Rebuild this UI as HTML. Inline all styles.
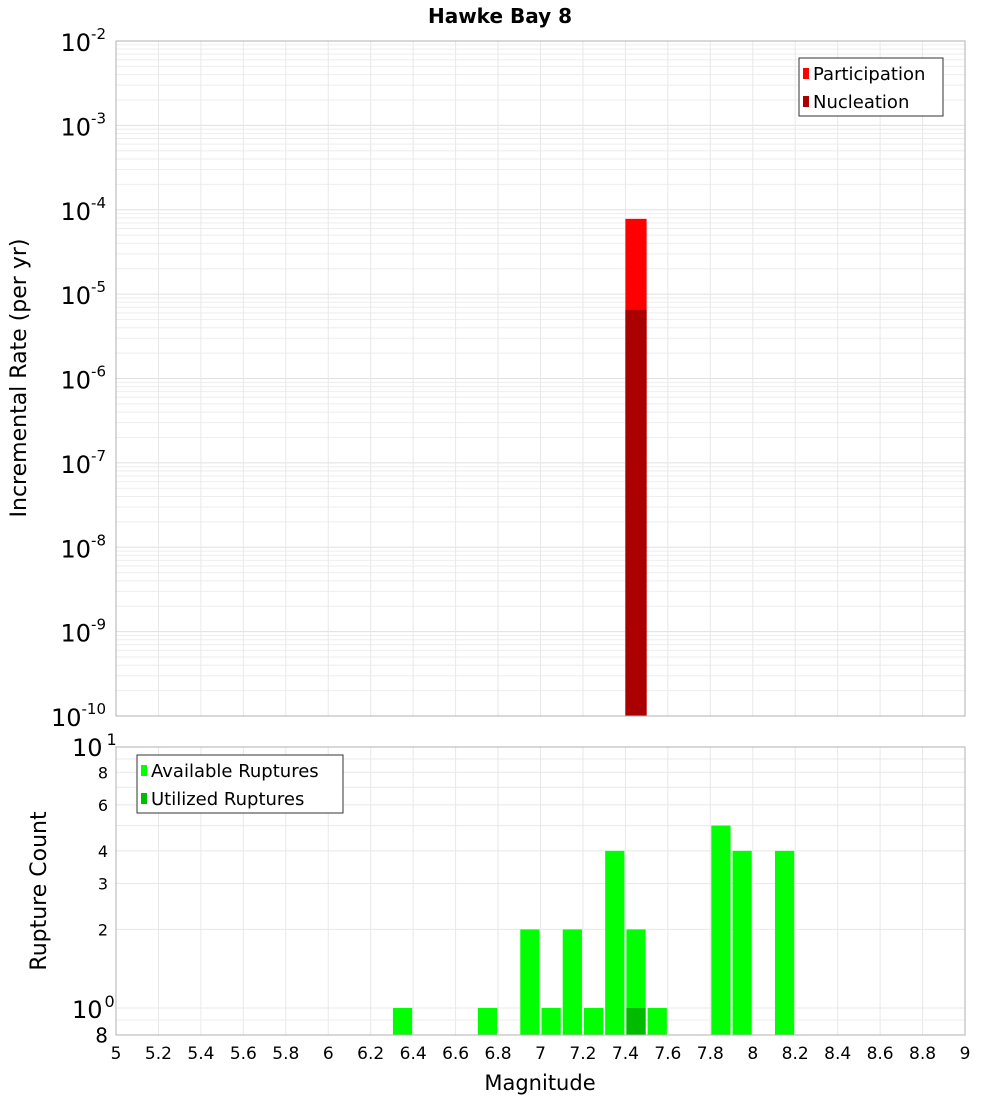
<!DOCTYPE html>
<html><head><meta charset="utf-8"><style>
body{margin:0;background:#fff;}
svg text{font-family:"DejaVu Sans","Liberation Sans",sans-serif;}
</style></head><body>
<svg id="chart" width="1000" height="1100" xmlns="http://www.w3.org/2000/svg"></svg>
<script>
const binCenters=[6.35,6.75,6.95,7.05,7.15,7.25,7.35,7.45,7.55,7.85,7.95,8.15];
const availableCounts=[1,1,2,1,2,1,4,2,1,5,4,4];
const utilizedCenters=[7.45];
const utilizedCounts=[1];
const rateMags=[7.45];
const participationRates=[7.8e-5];
const nucleationRates=[6.5e-6];
const xTicks=[5,5.2,5.4,5.6,5.8,6,6.2,6.4,6.6,6.8,7,7.2,7.4,7.6,7.8,8,8.2,8.4,8.6,8.8,9];
const topExps=[-2,-3,-4,-5,-6,-7,-8,-9,-10];
const botTicks=[8,6,4,3,2,8];

const NS="http://www.w3.org/2000/svg";
const svg=document.getElementById('chart');
function mk(tag,attrs,name,parent){const e=document.createElementNS(NS,tag);for(const k in attrs)e.setAttribute(k,attrs[k]);


(parent||svg).appendChild(e);return e;}
const X0=116,X1=965;
const xs=v=>X0+(v-5)/4*(X1-X0);
const TY0=41,TY1=716;
const ty=v=>TY0+(-2-Math.log10(v))/8*(TY1-TY0);
const BY0=747,BY1=1035;
const by=v=>1008-Math.log10(v)*261;

// title
const t=mk('text',{x:500,y:23,'text-anchor':'middle','font-size':20,'font-weight':'bold'},'chart-title');t.textContent='Hawke Bay 8';

// top grid
for(let e=-10;e<-2;e++){for(let m=1;m<10;m++){const y=ty(m*Math.pow(10,e));mk('line',{x1:X0,x2:X1,y1:y,y2:y,stroke:m==1?'#e0e0e0':'#eeeeee','stroke-width':1},'top-grid-h');}}
for(const v of xTicks){mk('line',{x1:xs(v),x2:xs(v),y1:TY0,y2:TY1,stroke:'#e8e8e8'},'top-grid-v');mk('line',{x1:xs(v),x2:xs(v),y1:BY0,y2:BY1,stroke:'#e8e8e8'},'bottom-grid-v');}
// bottom grid
for(let m=1;m<=10;m++){const y=by(m);mk('line',{x1:X0,x2:X1,y1:y,y2:y,stroke:'#e8e8e8'},'bottom-grid-h');}
mk('line',{x1:X0,x2:X1,y1:by(0.9),y2:by(0.9),stroke:'#eeeeee'},'bottom-grid-h');

// top bars
const bw=xs(5.1)-xs(5);
rateMags.forEach((m,i)=>{
 mk('rect',{x:xs(m)-bw/2,y:ty(participationRates[i]),width:bw,height:TY1-ty(participationRates[i]),fill:'#ff0000'},'participation-bar');
 mk('rect',{x:xs(m)-bw/2,y:ty(nucleationRates[i]),width:bw,height:TY1-ty(nucleationRates[i]),fill:'#aa0000'},'nucleation-bar');
});
// bottom bars
binCenters.forEach((m,i)=>{const y=by(availableCounts[i]);
 mk('rect',{x:xs(m)-bw/2+1,y:y,width:bw-2,height:BY1-y,fill:'#00ff00'},'available-bar');});
utilizedCenters.forEach((m,i)=>{const y=by(utilizedCounts[i]);
 mk('rect',{x:xs(m)-bw/2+1,y:y,width:bw-2,height:BY1-y,fill:'#00bb00'},'utilized-bar');});

// frames
mk('rect',{x:X0,y:TY0,width:X1-X0,height:TY1-TY0,fill:'none',stroke:'#b0b0b0'},'top-plot-frame');
mk('rect',{x:X0,y:BY0,width:X1-X0,height:BY1-BY0,fill:'none',stroke:'#b0b0b0'},'bottom-plot-frame');

// top y ticks
topExps.forEach(e=>{const y=ty(Math.pow(10,e));
 const g=mk('text',{x:106,y:y+10,'text-anchor':'end','font-size':24},'top-y-tick');
 g.innerHTML='10<tspan dy="-12" font-size="15">'+e+'</tspan>';
});
// bottom y ticks
const bt1=mk('text',{x:72,y:by(10)+9,'font-size':24},'bottom-y-tick');bt1.innerHTML='10<tspan dy="-11" dx="4" font-size="16">1</tspan>';
const bt0=mk('text',{x:72,y:by(1)+10,'font-size':24},'bottom-y-tick');bt0.innerHTML='10<tspan dy="-11" dx="2" font-size="16">0</tspan>';
[8,6,4,3,2].forEach(v=>{const tt=mk('text',{x:108,y:by(v)+6,'text-anchor':'end','font-size':16},'bottom-y-tick');tt.textContent=v;});
const t8=mk('text',{x:108,y:by(0.8)+9,'text-anchor':'end','font-size':20},'bottom-y-tick');t8.textContent='8';

// x ticks
xTicks.forEach(v=>{const tt=mk('text',{x:xs(v),y:1059,'text-anchor':'middle','font-size':17},'x-tick');tt.textContent=String(v);});
const xl=mk('text',{x:540,y:1090,'text-anchor':'middle','font-size':21},'x-axis-title');xl.textContent='Magnitude';
const yl=mk('text',{x:0,y:0,'text-anchor':'middle','font-size':22,transform:'translate(26,378) rotate(-90)'},'top-y-axis-title');yl.textContent='Incremental Rate (per yr)';
const yl2=mk('text',{x:0,y:0,'text-anchor':'middle','font-size':22,transform:'translate(46,891) rotate(-90)'},'bottom-y-axis-title');yl2.textContent='Rupture Count';

// legends
function legend(x,y,w,items,name){const g=mk('g',{},name);
 mk('rect',{x:x,y:y,width:w,height:58,fill:'#fff',stroke:'#333'},name+'-box',g);
 items.forEach((it,i)=>{mk('rect',{x:x+4,y:y+10+i*28,width:6,height:11,fill:it[1]},'legend-swatch',g);
 const tt=mk('text',{x:x+14,y:y+22+i*28,'font-size':18},'legend-entry',g);tt.textContent=it[0];});}
legend(799,58,144,[['Participation','#ff0000'],['Nucleation','#aa0000']],'top-legend');
legend(137,755,206,[['Available Ruptures','#00ff00'],['Utilized Ruptures','#00bb00']],'bottom-legend');
</script>
</body></html>
